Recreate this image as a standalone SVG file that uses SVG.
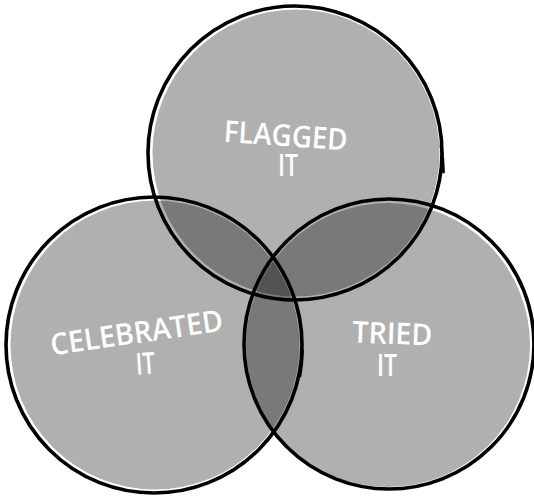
<svg xmlns="http://www.w3.org/2000/svg" width="534" height="497" viewBox="0 0 534 497">
  <style>
    .fill { fill: #000; fill-opacity: 0.31; stroke: none; }
    .ring { fill: none; stroke: #000; stroke-width: 3.6; }
    .tick { fill: none; stroke: #000; stroke-width: 2.8; stroke-linecap: round; }
    .label { fill: #fff; font-family: "Open Sans", "Liberation Sans", sans-serif; font-size: 30px; font-weight: 600; text-anchor: middle; }
  </style>
  <rect width="534" height="497" fill="#fff"/>
  <g id="fills">
    <circle class="fill" cx="296" cy="153" r="143.5"/>
    <circle class="fill" cx="155" cy="345" r="144.5"/>
    <circle class="fill" cx="388" cy="345" r="142"/>
  </g>
  <g id="node-flagged">
    <circle class="ring" cx="295" cy="153" r="147"/>
    <path class="tick" d="M 441 146 A 148 148 0 0 1 443.5 172"/>
    <text class="label" x="285" y="146" transform="rotate(4 285 146)" textLength="124" lengthAdjust="spacingAndGlyphs">FLAGGED</text>
    <text class="label" x="288" y="176" textLength="20" lengthAdjust="spacingAndGlyphs">IT</text>
  </g>
  <g id="node-celebrated">
    <circle class="ring" cx="154" cy="345" r="148"/>
    <path class="tick" d="M 302.5 350 A 149 149 0 0 1 300 376"/>
    <text class="label" x="138" y="343" transform="rotate(-8.2 138 343)" textLength="174" lengthAdjust="spacingAndGlyphs">CELEBRATED</text>
    <text class="label" x="146" y="374" transform="rotate(-4 146 374)" textLength="19" lengthAdjust="spacingAndGlyphs">IT</text>
  </g>
  <g id="node-tried">
    <circle class="ring" cx="389" cy="344" r="145"/>
    <text class="label" x="392" y="344" transform="rotate(2 392 344)" textLength="80" lengthAdjust="spacingAndGlyphs">TRIED</text>
    <text class="label" x="387" y="376" textLength="20" lengthAdjust="spacingAndGlyphs">IT</text>
  </g>
  <g id="connectors"></g>
</svg>
